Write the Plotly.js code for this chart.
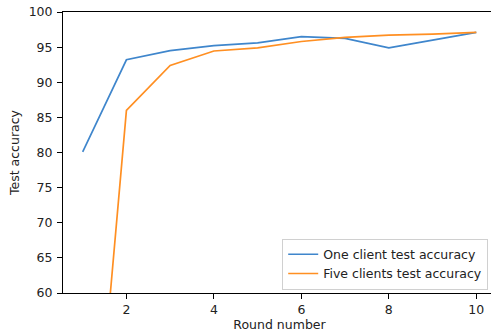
<!DOCTYPE html>
<html>
<head>
<meta charset="utf-8">
<script src="https://cdn.plot.ly/plotly-3.0.1.min.js"></script>
<style>
html,body{margin:0;padding:0;overflow:hidden;background:#fff;width:491px;height:333px;}
#chart{width:497px;height:333px;}
</style>
</head>
<body>
<div id="chart"></div>
<script>
const rounds = [1, 2, 3, 4, 5, 6, 7, 8, 9, 10];
const oneClient = [80.1, 93.2, 94.5, 95.2, 95.6, 96.5, 96.25, 94.9, 96.0, 97.1];
const fiveClients = [15.2, 86.0, 92.4, 94.45, 94.9, 95.8, 96.4, 96.7, 96.85, 97.1];
const seriesNames = ["One client test accuracy", "Five clients test accuracy"];
const xTicks = [2, 4, 6, 8, 10];
const yTicks = [60, 65, 70, 75, 80, 85, 90, 95, 100];

const fontFam = "DejaVu Sans, sans-serif";
const traces = [
  {x: rounds, y: oneClient, name: seriesNames[0], mode: "lines",
   line: {color: "#3f86cc", width: 1.7}},
  {x: rounds, y: fiveClients, name: seriesNames[1], mode: "lines",
   line: {color: "#ff8f22", width: 1.7}}
];
const axisCommon = {
  showline: true, mirror: true, linecolor: "#000", linewidth: 1,
  showgrid: false, zeroline: false, ticks: "outside", ticklen: 5,
  tickcolor: "#000", tickwidth: 1,
  tickfont: {family: fontFam, size: 12.5, color: "#222"}
};
const layout = {
  width: 497, height: 333,
  margin: {l: 63, r: 1, t: 12, b: 40},
  paper_bgcolor: "#fff", plot_bgcolor: "#fff",
  showlegend: true,
  legend: {
    x: 0.982, xanchor: "right", y: 0.012, yanchor: "bottom",
    bgcolor: "rgba(255,255,255,0.9)", bordercolor: "#d0d0d0", borderwidth: 1,
    font: {family: fontFam, size: 12.5, color: "#222"}
  },
  xaxis: Object.assign({}, axisCommon, {
    range: [0.55, 10.45], tickmode: "array", tickvals: xTicks,
    ticktext: xTicks.map(String),
    title: {text: "Round number", font: {family: fontFam, size: 12.5, color: "#222"}, standoff: 4}
  }),
  yaxis: Object.assign({}, axisCommon, {
    range: [60, 100], tickmode: "array", tickvals: yTicks,
    ticktext: yTicks.map(String), ticklabelstandoff: 2,
    title: {text: "Test accuracy", font: {family: fontFam, size: 12.5, color: "#222"}, standoff: 6}
  })
};
Plotly.newPlot("chart", traces, layout, {displayModeBar: false, staticPlot: true});
</script>
</body>
</html>
